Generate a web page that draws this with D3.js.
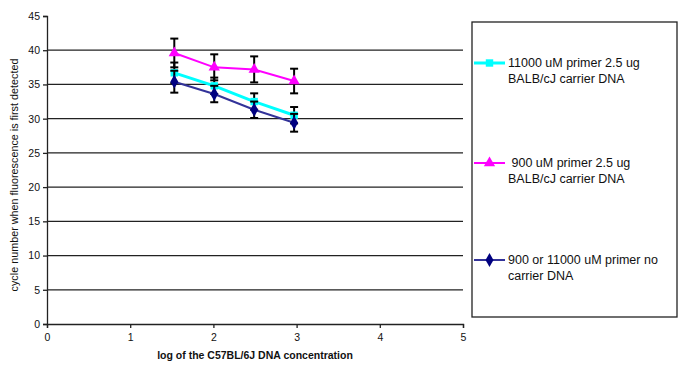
<!DOCTYPE html>
<html>
<head>
<meta charset="utf-8">
<script src="https://cdn.jsdelivr.net/npm/d3@7"></script>
<style>
  body { margin: 0; background: #fff; }
  svg { display: block; font-family: "Liberation Sans", Arial, sans-serif; }
</style>
</head>
<body>
<div id="chart"></div>
<script>
// log concentrations on the x axis
const logConc = [1.53, 2.01, 2.49, 2.97];

const seriesNames = [
  ['11000 uM primer 2.5 ug', 'BALB/cJ carrier DNA'],
  [' 900 uM primer 2.5 ug', 'BALB/cJ carrier DNA'],
  ['900 or 11000 uM primer no', 'carrier DNA']
];
const cyanCycles = [36.7, 34.8, 32.5, 30.5];
const cyanErr = [1.5, 1.2, 1.2, 1.2];
const magentaCycles = [39.6, 37.5, 37.2, 35.5];
const magentaErr = [2.1, 1.9, 1.9, 1.8];
const navyCycles = [35.4, 33.6, 31.3, 29.4];
const navyErr = [1.6, 1.2, 1.2, 1.3];

const xTicks = [0, 1, 2, 3, 4, 5];
const yTicks = [0, 5, 10, 15, 20, 25, 30, 35, 40, 45];

const width = 682, height = 365;
const svg = d3.select('#chart').append('svg')
  .attr('width', width).attr('height', height);

const x = d3.scaleLinear().domain([0, 5]).range([47, 463]);
const y = d3.scaleLinear().domain([0, 45]).range([324, 16]);

// gridlines
svg.append('g')
  .selectAll('line')
  .data(yTicks.filter(d => d > 0 && d < 45))
  .join('line')
  .attr('x1', x(0)).attr('x2', x(5))
  .attr('y1', d => y(d)).attr('y2', d => y(d))
  .attr('stroke', '#222').attr('stroke-width', 1.3);

// axes
const yAxis = svg.append('g')
  .attr('transform', `translate(${x(0)},0)`)
  .call(d3.axisLeft(y).tickValues(yTicks).tickSize(4).tickPadding(3).tickFormat(d3.format('d')));
const xAxis = svg.append('g')
  .attr('transform', `translate(0,${y(0)})`)
  .call(d3.axisBottom(x).tickValues(xTicks).tickSize(4).tickPadding(6).tickFormat(d3.format('d')));
[xAxis, yAxis].forEach(g => {
  g.select('.domain').attr('stroke', '#222').attr('stroke-width', 1.3);
  g.selectAll('.tick line').attr('stroke', '#222').attr('stroke-width', 1.3);
  g.selectAll('.tick text').attr('font-size', 10.5).attr('fill', '#111')
    .style('font-family', '"Liberation Sans", Arial, sans-serif');
});

// axis titles
svg.append('text')
  .attr('transform', `translate(18,${(y(0) + y(45)) / 2 + 5}) rotate(-90)`)
  .attr('text-anchor', 'middle')
  .attr('font-size', 10.8)
  .attr('fill', '#111')
  .text('cycle number when fluorescence is first detected');

svg.append('text')
  .attr('x', 255).attr('y', 359)
  .attr('text-anchor', 'middle')
  .attr('font-size', 10.5)
  .attr('font-weight', 'bold')
  .attr('fill', '#111')
  .text('log of the C57BL/6J DNA concentration');

const series = [
  { vals: cyanCycles, err: cyanErr, line: '#00ffff', fill: '#00ffff', lw: 3, shape: d3.symbolSquare, size: 55 },
  { vals: magentaCycles, err: magentaErr, line: '#ff00ff', fill: '#ff00ff', lw: 2, shape: d3.symbolTriangle, size: 55 },
  { vals: navyCycles, err: navyErr, line: '#333399', fill: '#000080', lw: 2, shape: d3.symbolDiamond, size: 55 }
];

const line = d3.line().x((d, i) => x(logConc[i])).y(d => y(d));

series.forEach(s => {
  const g = svg.append('g');
  g.append('path')
    .attr('d', line(s.vals))
    .attr('fill', 'none')
    .attr('stroke', s.line)
    .attr('stroke-width', s.lw);

  const eb = g.selectAll('g.err')
    .data(s.vals)
    .join('g');
  eb.append('line')
    .attr('x1', (d, i) => x(logConc[i])).attr('x2', (d, i) => x(logConc[i]))
    .attr('y1', (d, i) => y(d + s.err[i])).attr('y2', (d, i) => y(d - s.err[i]))
    .attr('stroke', '#000').attr('stroke-width', 2);
  [1, -1].forEach(sign => {
    eb.append('line')
      .attr('x1', (d, i) => x(logConc[i]) - 4).attr('x2', (d, i) => x(logConc[i]) + 4)
      .attr('y1', (d, i) => y(d + sign * s.err[i])).attr('y2', (d, i) => y(d + sign * s.err[i]))
      .attr('stroke', '#000').attr('stroke-width', 2);
  });

  g.selectAll('path.mk')
    .data(s.vals)
    .join('path')
    .attr('class', 'mk')
    .attr('transform', (d, i) => `translate(${x(logConc[i])},${y(d)})`)
    .attr('d', d3.symbol().type(s.shape).size(s.size))
    .attr('fill', s.fill);
});

// legend
svg.append('rect')
  .attr('x', 472).attr('y', 22).attr('width', 205).attr('height', 295)
  .attr('fill', 'none').attr('stroke', '#222').attr('stroke-width', 1.3);

const legendY = [63, 163, 260];
series.forEach((s, k) => {
  const ly = legendY[k];
  svg.append('line')
    .attr('x1', 474).attr('x2', 505).attr('y1', ly).attr('y2', ly)
    .attr('stroke', s.line).attr('stroke-width', s.lw);
  svg.append('path')
    .attr('transform', `translate(489.5,${ly})`)
    .attr('d', d3.symbol().type(s.shape).size(s.size))
    .attr('fill', s.fill);
  const t = svg.append('text')
    .attr('x', 508).attr('y', ly + 4)
    .attr('font-size', 12.5)
    .attr('fill', '#111')
    .style('white-space', 'pre');
  seriesNames[k].forEach((str, j) => {
    t.append('tspan').attr('x', 508).attr('dy', j ? 16 : 0).text(str);
  });
});
</script>
</body>
</html>
